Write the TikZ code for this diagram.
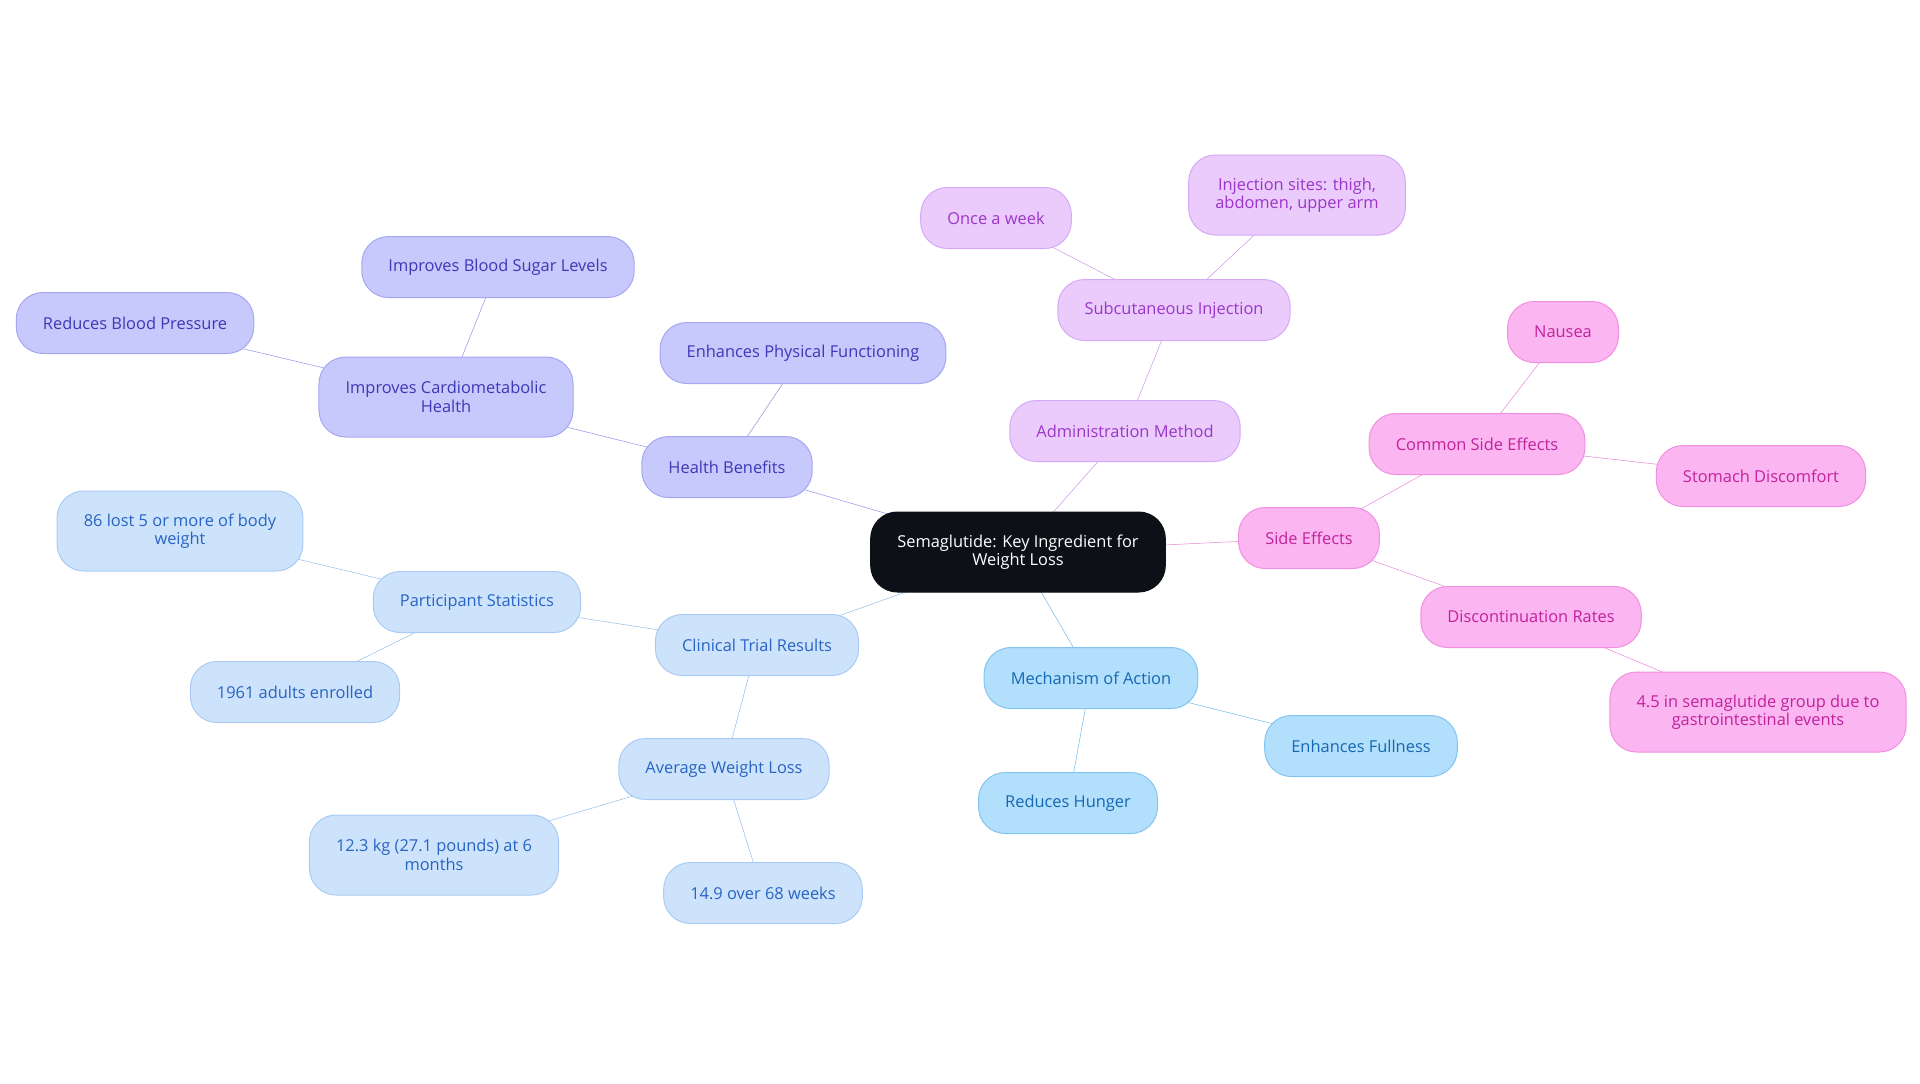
\documentclass[tikz,border=0pt]{standalone}
\usepackage{fontspec}
\setmainfont{Open Sans}
\usetikzlibrary{backgrounds}
\definecolor{hubfill}{HTML}{0D1117}
\definecolor{healthfill}{HTML}{C7C8FC}
\definecolor{healthdraw}{HTML}{A5A7F2}
\definecolor{healthtext}{HTML}{3D39B5}
\definecolor{healthline}{HTML}{9496EA}
\definecolor{adminfill}{HTML}{EACBFC}
\definecolor{admindraw}{HTML}{D6A8F5}
\definecolor{admintext}{HTML}{9B36C8}
\definecolor{adminline}{HTML}{CE96F0}
\definecolor{sidefill}{HTML}{FBB5F1}
\definecolor{sidedraw}{HTML}{EF90E0}
\definecolor{sidetext}{HTML}{C2229C}
\definecolor{sideline}{HTML}{EA8AD8}
\definecolor{mechfill}{HTML}{B2DFFC}
\definecolor{mechdraw}{HTML}{83C5EF}
\definecolor{mechtext}{HTML}{1668B3}
\definecolor{mechline}{HTML}{78BDEA}
\definecolor{trialfill}{HTML}{CDE3FC}
\definecolor{trialdraw}{HTML}{A9CBF3}
\definecolor{trialtext}{HTML}{2864C2}
\definecolor{trialline}{HTML}{96BFEE}
\tikzset{
  topic/.style={rectangle, rounded corners=20pt, minimum height=45.75pt, inner xsep=20pt,
    align=center, line width=0.75pt, font=\fontsize{12.3}{13.8}\selectfont},
  twoline/.style={minimum height=60pt},
  hub/.style={topic, twoline, fill=hubfill, draw=hubfill, text=white, rounded corners=20pt},
  health/.style={topic, fill=healthfill, draw=healthdraw, text=healthtext},
  admin/.style={topic, fill=adminfill, draw=admindraw, text=admintext},
  side/.style={topic, fill=sidefill, draw=sidedraw, text=sidetext},
  mech/.style={topic, fill=mechfill, draw=mechdraw, text=mechtext},
  trial/.style={topic, fill=trialfill, draw=trialdraw, text=trialtext},
}

\begin{document}
\begin{tikzpicture}[x=0.75pt,y=-0.75pt]
  \useasboundingbox (0,0) rectangle (1920,1083);
  % centre
  \node[hub] (sema) at (1018,552) {Semaglutide: Key Ingredient for\\Weight Loss};
  % health benefits
  \node[health] (health) at (727,467) {Health Benefits};
  \node[health] (physical) at (803,353) {Enhances Physical Functioning};
  \node[health,twoline] (cardio) at (446,397) {Improves Cardiometabolic\\Health};
  \node[health] (pressure) at (135,323) {Reduces Blood Pressure};
  \node[health] (sugar) at (498,267) {Improves Blood Sugar Levels};
  % administration
  \node[admin] (admin) at (1125,431) {Administration Method};
  \node[admin] (subcut) at (1174,310) {Subcutaneous Injection};
  \node[admin] (weekly) at (996,218) {Once a week};
  \node[admin,twoline] (sites) at (1297,195) {Injection sites: thigh,\\abdomen, upper arm};
  % side effects
  \node[side] (side) at (1309,538) {Side Effects};
  \node[side] (common) at (1477,444) {Common Side Effects};
  \node[side] (nausea) at (1563,332) {Nausea};
  \node[side] (stomach) at (1761,476) {Stomach Discomfort};
  \node[side] (discont) at (1531,617) {Discontinuation Rates};
  \node[side,twoline] (gastro) at (1758,712) {4.5 in semaglutide group due to\\gastrointestinal events};
  % mechanism
  \node[mech] (mech) at (1091,678) {Mechanism of Action};
  \node[mech] (fullness) at (1361,746) {Enhances Fullness};
  \node[mech] (hunger) at (1068,803) {Reduces Hunger};
  % clinical trial
  \node[trial] (trial) at (757,645) {Clinical Trial Results};
  \node[trial] (stats) at (477,602) {Participant Statistics};
  \node[trial,twoline] (lost) at (180,531) {86 lost 5 or more of body\\weight};
  \node[trial] (adults) at (295,692) {1961 adults enrolled};
  \node[trial] (average) at (724,769) {Average Weight Loss};
  \node[trial,twoline] (kg) at (434,855) {12.3 kg (27.1 pounds) at 6\\months};
  \node[trial] (weeks) at (763,893) {14.9 over 68 weeks};
  % connectors
  \begin{scope}[on background layer, line width=1.8pt]
    \draw[healthline] (sema.center) -- (health.center);
    \draw[healthline] (health.center) -- (physical.center);
    \draw[healthline] (health.center) -- (cardio.center);
    \draw[healthline] (cardio.center) -- (pressure.center);
    \draw[healthline] (cardio.center) -- (sugar.center);
    \draw[adminline] (sema.center) -- (admin.center);
    \draw[adminline] (admin.center) -- (subcut.center);
    \draw[adminline] (subcut.center) -- (weekly.center);
    \draw[adminline] (subcut.center) -- (sites.center);
    \draw[sideline] (sema.center) -- (side.center);
    \draw[sideline] (side.center) -- (common.center);
    \draw[sideline] (common.center) -- (nausea.center);
    \draw[sideline] (common.center) -- (stomach.center);
    \draw[sideline] (side.center) -- (discont.center);
    \draw[sideline] (discont.center) -- (gastro.center);
    \draw[mechline] (sema.center) -- (mech.center);
    \draw[mechline] (mech.center) -- (fullness.center);
    \draw[mechline] (mech.center) -- (hunger.center);
    \draw[trialline] (sema.center) -- (trial.center);
    \draw[trialline] (trial.center) -- (stats.center);
    \draw[trialline] (stats.center) -- (lost.center);
    \draw[trialline] (stats.center) -- (adults.center);
    \draw[trialline] (trial.center) -- (average.center);
    \draw[trialline] (average.center) -- (kg.center);
    \draw[trialline] (average.center) -- (weeks.center);
  \end{scope}
\end{tikzpicture}
\end{document}
